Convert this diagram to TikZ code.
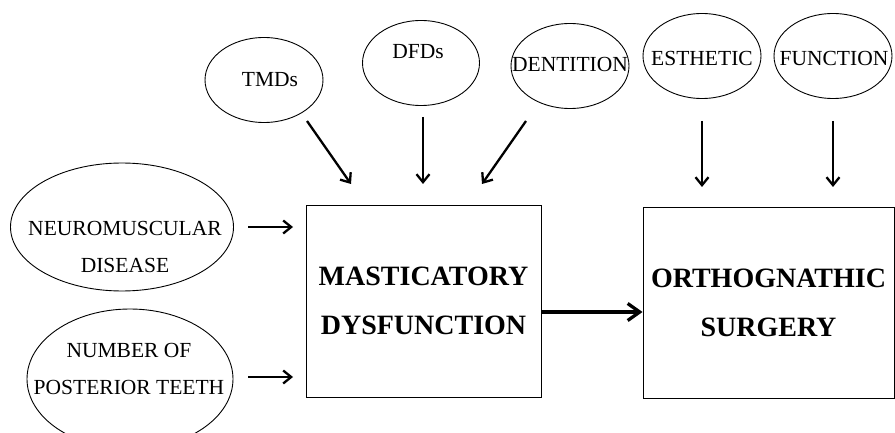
\documentclass[tikz,border=0pt]{standalone}
\usepackage{fontspec}
\setmainfont{Liberation Serif}
\usetikzlibrary{shapes.geometric,arrows.meta}

\begin{document}
\begin{tikzpicture}[
    x=1pt, y=-1pt,
    factor/.style={ellipse, draw, line width=0.9pt, inner sep=0pt},
    ftext/.style={font=\fontsize{21.5}{37}\selectfont, align=center, inner sep=0pt},
    mainbox/.style={draw, line width=0.9pt, inner sep=0pt, align=center,
                    font=\fontsize{28}{49}\selectfont\bfseries},
    arr/.style={-{Straight Barb[length=8pt,width=13pt]}, line width=2.3pt},
    bigarr/.style={-{Straight Barb[length=12pt,width=17pt]}, line width=3.3pt}
  ]
  \clip (0,0) rectangle (895,433);

  % factors above
  \node[factor, minimum width=118pt, minimum height=85pt] (tmds) at (264,80) {};
  \node[factor, minimum width=117pt, minimum height=85pt] (dfds) at (421,63) {};
  \node[factor, minimum width=118pt, minimum height=85pt] (dent) at (570,66) {};
  \node[factor, minimum width=118pt, minimum height=85pt] (esth) at (702,56) {};
  \node[factor, minimum width=118pt, minimum height=85pt] (func) at (833,56) {};
  \node[ftext] (tmds-t) at (270,80) {TMDs};
  \node[ftext] (dfds-t) at (418,52) {DFDs};
  \node[ftext] (dent-t) at (570,64) {DENTITION};
  \node[ftext] (esth-t) at (702,58) {ESTHETIC};
  \node[ftext] (func-t) at (834,58) {FUNCTION};

  % factors on the left
  \node[factor, minimum width=223pt, minimum height=128pt] (neuro) at (122,227) {};
  \node[factor, minimum width=206pt, minimum height=140pt] (num) at (130,379) {};
  \node[ftext] (neuro-t) at (125,247) {NEUROMUSCULAR\\DISEASE};
  \node[ftext] (num-t) at (129,369) {NUMBER OF\\POSTERIOR TEETH};

  % main boxes
  \node[mainbox, minimum width=235pt, minimum height=192pt] (mast) at (423.5,301) {MASTICATORY\\DYSFUNCTION};
  \node[mainbox, minimum width=251pt, minimum height=191pt] (orth) at (768.5,302.5) {ORTHOGNATHIC\\SURGERY};

  % arrow ends
  \coordinate (tmds-out) at (307,121);
  \coordinate (mast-in1) at (351,184);
  \coordinate (dfds-out) at (423,117);
  \coordinate (mast-in2) at (423,184);
  \coordinate (dent-out) at (526,121);
  \coordinate (mast-in3) at (482,184);
  \coordinate (esth-out) at (702,121);
  \coordinate (orth-in1) at (702,187);
  \coordinate (func-out) at (833,121);
  \coordinate (orth-in2) at (833,187);
  \coordinate (neuro-out) at (248,227);
  \coordinate (mast-in4) at (293,227);
  \coordinate (num-out) at (248,377);
  \coordinate (mast-in5) at (293,377);

  \draw[arr] (tmds-out) -- (mast-in1);
  \draw[arr] (dfds-out) -- (mast-in2);
  \draw[arr] (dent-out) -- (mast-in3);
  \draw[arr] (esth-out) -- (orth-in1);
  \draw[arr] (func-out) -- (orth-in2);
  \draw[arr] (neuro-out) -- (mast-in4);
  \draw[arr] (num-out) -- (mast-in5);
  \draw[bigarr] (mast.east |- 0,312) -- (orth.west |- 0,312);
\end{tikzpicture}
\end{document}
